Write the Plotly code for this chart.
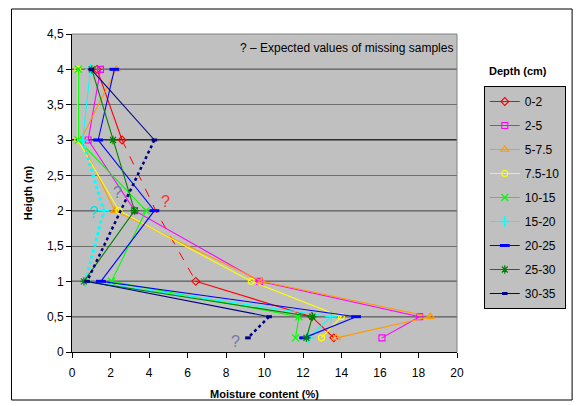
import plotly.graph_objects as go

heights = [4, 3, 2, 1, 0.5, 0.2]
depths = ["0-2", "2-5", "5-7.5", "7.5-10", "10-15", "15-20", "20-25", "25-30", "30-35"]

# measured moisture content (%) per height; None = missing sample
v_0_2 = [1.3, 2.6, None, 6.43, 12.45, 13.6]
v_2_5 = [1.48, 0.84, 3.25, 9.74, 18.06, 16.1]
v_5_75 = [2.3, 0.45, 2.22, 9.85, 18.62, 13.73]
v_75_10 = [0.3, 0.3, 2.44, 9.31, 13.99, 12.96]
v_10_15 = [0.33, 0.33, 3.85, 2.05, 11.79, 11.61]
v_15_20 = [0.96, 0.55, None, 0.7, 13.47, 12.3]
v_20_25 = [2.2, 1.36, 4.28, 1.5, 14.76, 12.06]
v_25_30 = [1.03, 2.13, 3.25, 0.62, 12.49, 12.18]
v_30_35 = [1.0, 4.28, None, 0.78, 10.24, None]

# expected values of missing samples (index into heights -> value)
exp_0_2 = {2: 4.35}
exp_15_20 = {2: 1.65}
exp_30_35 = {2: 2.53, 5: 9.14}

series = [v_0_2, v_2_5, v_5_75, v_75_10, v_10_15, v_15_20, v_20_25, v_25_30, v_30_35]
expected = [exp_0_2, {}, {}, {}, {}, exp_15_20, {}, {}, exp_30_35]
colors = ["#ff0000", "#ff00ff", "#ff9900", "#ffff00", "#00ff00", "#00ffff", "#0000ff", "#008000", "#000080"]
symbols = ["diamond-open", "square-open", "triangle-up-open", "circle-open", "x-thin-open",
           "cross-thin-open", "line-ew-open", "asterisk-open", "line-ew-open"]
msizes = [6, 6, 7, 6, 7, 8, 7, 7, 4]
mwidths = [1.1, 1.1, 1.1, 1.1, 1.3, 1.3, 3, 1.2, 3]
exp_dash = {0: ("dash", 1), 5: ("dot", 3), 8: ("dot", 2.5)}
exp_marker = {5: [2], 8: [5]}

# "?" labels: (series index, x, y)
qmarks = [(0, 4.85, 2.13), (5, 1.1, 1.97), (8, 2.35, 2.26), (8, 8.5, 0.15)]
qcolors = {0: "#ff3030", 5: "#00e0e0", 8: "#7878a8"}

ref_lines = [0.5, 1, 2, 3, 4]

fig = go.Figure()

for i, (name, vals) in enumerate(zip(depths, series)):
    exp = expected[i]
    if exp:
        dash, w = exp_dash[i]
        full = [vals[k] if vals[k] is not None else exp.get(k) for k in range(len(heights))]
        for k in exp:
            xs, ys = [], []
            for kk in (k - 1, k, k + 1):
                if 0 <= kk < len(heights) and full[kk] is not None:
                    xs.append(full[kk])
                    ys.append(heights[kk])
            fig.add_trace(go.Scatter(
                x=xs, y=ys, mode="lines", showlegend=False, hoverinfo="skip",
                line=dict(color=colors[i], width=w, dash=dash)))
            if k in exp_marker.get(i, []):
                fig.add_trace(go.Scatter(
                    x=[exp[k]], y=[heights[k]], mode="markers", showlegend=False,
                    marker=dict(symbol=symbols[i], size=msizes[i], color=colors[i],
                                line=dict(color=colors[i], width=mwidths[i]))))
    fig.add_trace(go.Scatter(
        x=vals, y=heights, name=name, mode="lines+markers", connectgaps=False,
        legendgroup=name,
        line=dict(color=colors[i], width=1.1),
        marker=dict(symbol=symbols[i], size=msizes[i], color=colors[i],
                    line=dict(color=colors[i], width=mwidths[i]))))

shapes = []
for h in ref_lines:
    shapes.append(dict(type="line", xref="paper", yref="y", x0=0, x1=1, y0=h, y1=h,
                       line=dict(color="black", width=1.3), layer="below"))
# outer chart border
shapes.append(dict(type="rect", xref="paper", yref="paper",
                   x0=(11 - 72) / 388, x1=(576 - 72) / 388,
                   y0=(352 - 400) / 318, y1=(352 - 9) / 318,
                   line=dict(color="black", width=1)))
# right & top plot border (grey)
shapes.append(dict(type="line", xref="paper", yref="paper", x0=1, x1=1, y0=0, y1=1,
                   line=dict(color="#808080", width=1)))
shapes.append(dict(type="line", xref="paper", yref="paper", x0=0, x1=1, y0=1, y1=1,
                   line=dict(color="#808080", width=1)))

annotations = []
for si, x, y in qmarks:
    annotations.append(dict(x=x, y=y, xref="x", yref="y", text="?", showarrow=False,
                            font=dict(size=16, color=qcolors[si], family="Liberation Sans")))
annotations.append(dict(x=0.995, y=0.955, xref="paper", yref="paper", xanchor="right",
                        yanchor="middle", text="? \u2013 Expected values of missing samples",
                        showarrow=False,
                        font=dict(size=12, color="black", family="Liberation Sans")))
annotations.append(dict(x=(521 - 72) / 388, y=(352 - 71) / 318, xref="paper", yref="paper",
                        xanchor="center", yanchor="middle",
                        text="<b>Depth (cm)</b>", showarrow=False,
                        font=dict(size=11, color="black", family="Liberation Sans")))

ytick_vals = [0, 0.5, 1, 1.5, 2, 2.5, 3, 3.5, 4, 4.5]
ytick_text = [str(v).replace(".", ",") if v != int(v) else str(int(v)) for v in ytick_vals]

fig.update_layout(
    width=578, height=406,
    margin=dict(l=72, r=118, t=34, b=54),
    paper_bgcolor="white", plot_bgcolor="#c0c0c0",
    font=dict(family="Liberation Sans", size=12, color="black"),
    shapes=shapes, annotations=annotations,
    legend=dict(x=(487 - 72) / 388, y=(352 - 86) / 318, xanchor="left", yanchor="top",
                bgcolor="#c0c0c0", bordercolor="black", borderwidth=1,
                font=dict(size=12, family="Liberation Sans"),
                tracegroupgap=5, traceorder="grouped"),
    xaxis=dict(range=[0, 20], dtick=2, tick0=0, showgrid=False, zeroline=False,
               ticks="outside", ticklen=5, tickcolor="black", showline=True,
               linecolor="black", linewidth=1, ticklabelstandoff=5, automargin=False,
               tickfont=dict(size=12),
               title=dict(text="<b>Moisture content (%)</b>", font=dict(size=11), standoff=10)),
    yaxis=dict(range=[0, 4.5], tickvals=ytick_vals, ticktext=ytick_text,
               showgrid=True, gridcolor="#707070", gridwidth=1, zeroline=False,
               ticks="outside", ticklen=5, tickcolor="black", showline=True,
               linecolor="black", linewidth=1, tickfont=dict(size=12), automargin=False,
               title=dict(text="<b>Heigth (m)</b>", font=dict(size=11), standoff=12)),
)

fig.write_html("out.html")
